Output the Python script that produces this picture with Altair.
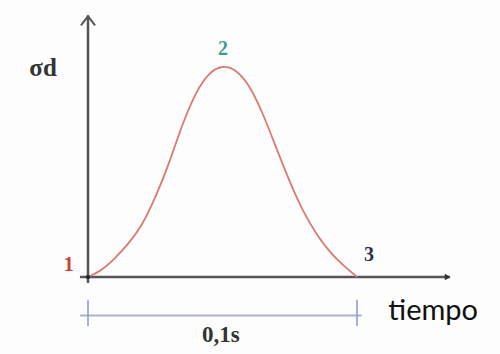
import altair as alt
import pandas as pd

# Dynamic stress pulse over a 0.1 s impact
time_s = [0.000, 0.005, 0.010, 0.015, 0.020, 0.025, 0.030, 0.035, 0.040, 0.045, 0.050,
          0.055, 0.060, 0.065, 0.070, 0.075, 0.080, 0.085, 0.090, 0.095, 0.100]
stress = [0.0, 0.035, 0.09, 0.16, 0.25, 0.38, 0.54, 0.72, 0.87, 0.965, 1.0,
          0.98, 0.905, 0.775, 0.615, 0.455, 0.315, 0.205, 0.12, 0.055, 0.0]

point_labels = ["1", "2", "3"]
point_times = [0.0, 0.05, 0.1]
y_title = "σd"
x_title = "tiempo"
span_label = "0,1s"

W, H = 500, 354
X_DOM = [-88 / 2690, 412 / 2690]
Y_DOM = [-77 / 210, 277 / 210]

xs = alt.Scale(domain=X_DOM, nice=False, zero=False)
ys = alt.Scale(domain=Y_DOM, nice=False, zero=False)


def X(field="t", **kw):
    return alt.X(field, type="quantitative", scale=xs, axis=None, **kw)


def Y(field="s", **kw):
    return alt.Y(field, type="quantitative", scale=ys, axis=None, **kw)


curve_df = pd.DataFrame({"t": time_s, "s": stress})

AXIS_COLOR = "#555555"

# axis lines
x_axis = alt.Chart(pd.DataFrame({"t": [-0.003], "t2": [0.1345], "s": [0]})).mark_rule(
    color=AXIS_COLOR, strokeWidth=2.5).encode(x=X(), x2="t2", y=Y())
y_axis = alt.Chart(pd.DataFrame({"t": [0], "s": [-0.028], "s2": [1.245]})).mark_rule(
    color=AXIS_COLOR, strokeWidth=2.5).encode(x=X(), y=Y(), y2="s2")

y_arrow = alt.Chart(pd.DataFrame({"t": [0], "s": [1.222]})).mark_point(
    shape="M-1,0.7 L0,-0.6 L1,0.7", filled=False, stroke=AXIS_COLOR,
    strokeWidth=2, size=200, opacity=1).encode(x=X(), y=Y())
x_arrow = alt.Chart(pd.DataFrame({"t": [0.1337], "s": [0]})).mark_point(
    shape="triangle-right", filled=True, color="#333333", size=45,
    opacity=1).encode(x=X(), y=Y())

origin_dot = alt.Chart(pd.DataFrame({"t": [0], "s": [0]})).mark_point(
    filled=True, color="#222222", size=18, opacity=1).encode(x=X(), y=Y())

curve = alt.Chart(curve_df).mark_line(
    color="#d87b74", strokeWidth=1.8, interpolate="natural").encode(x=X(), y=Y())

# 0,1 s span marker below the time axis
span_line = alt.Chart(pd.DataFrame({"t": [-0.003], "t2": [0.1018], "s": [-0.183]})).mark_rule(
    color="#a9b6c6", strokeWidth=2).encode(x=X(), x2="t2", y=Y())
span_ticks = alt.Chart(pd.DataFrame({"t": [point_times[0], point_times[2]],
                                     "s": [-0.108, -0.108], "s2": [-0.233, -0.233]})).mark_rule(
    color="#8a98c4", strokeWidth=1.5).encode(x=X(), y=Y(), y2="s2")

serif = "Liberation Serif"

lbl1 = alt.Chart(pd.DataFrame({"t": [-0.0072], "s": [0.057], "txt": [point_labels[0]]})).mark_text(
    font=serif, fontWeight="bold", fontSize=20, color="#cc3d3d").encode(x=X(), y=Y(), text="txt")
lbl2 = alt.Chart(pd.DataFrame({"t": [0.0502], "s": [1.086], "txt": [point_labels[1]]})).mark_text(
    font=serif, fontWeight="bold", fontSize=20, color="#3a9e8a").encode(x=X(), y=Y(), text="txt")
lbl3 = alt.Chart(pd.DataFrame({"t": [0.1045], "s": [0.105], "txt": [point_labels[2]]})).mark_text(
    font=serif, fontWeight="bold", fontSize=20, color="#2c3048").encode(x=X(), y=Y(), text="txt")

ytitle = alt.Chart(pd.DataFrame({"t": [-0.0167], "s": [0.995], "txt": [y_title]})).mark_text(
    font=serif, fontWeight="bold", fontSize=25, color="#333333").encode(x=X(), y=Y(), text="txt")
span_txt = alt.Chart(pd.DataFrame({"t": [0.0494], "s": [-0.276], "txt": [span_label]})).mark_text(
    font=serif, fontWeight="bold", fontSize=23, color="#333333").encode(x=X(), y=Y(), text="txt")
xtitle = alt.Chart(pd.DataFrame({"t": [0.1283], "s": [-0.162], "txt": [x_title]})).mark_text(
    font="Lato", fontSize=29, color="#111111").encode(x=X(), y=Y(), text="txt")

chart = alt.layer(
    span_line, span_ticks, x_axis, y_axis, y_arrow, x_arrow, curve, origin_dot,
    lbl1, lbl2, lbl3, ytitle, span_txt, xtitle,
).properties(
    width=W, height=H, padding=0,
    autosize=alt.AutoSizeParams(type="none"),
    background="#fdfdfd",
).configure_view(stroke=None)

chart.save("out.html", embed_options={"renderer": "svg", "actions": False})
